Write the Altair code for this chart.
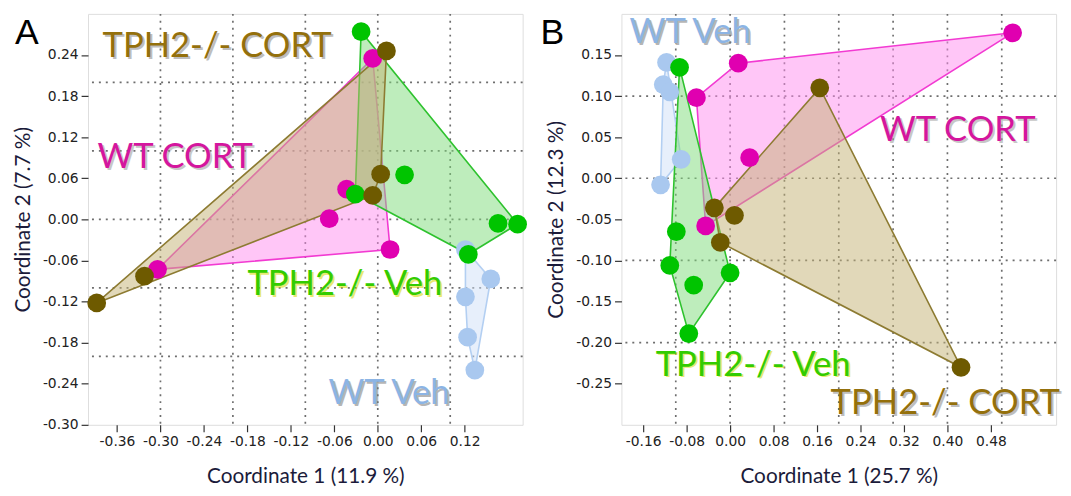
import altair as alt
import pandas as pd

groups = ["WT Veh", "WT CORT", "TPH2-/- Veh", "TPH2-/- CORT"]

# ---------------- Panel A values ----------------
a_wtveh_x = [0.121, 0.156, 0.121, 0.124, 0.134]
a_wtveh_y = [-0.044, -0.087, -0.113, -0.172, -0.220]
a_wtcort_x = [-0.007, -0.043, -0.067, 0.017, -0.304]
a_wtcort_y = [0.235, 0.044, 0.001, -0.044, -0.073]
a_tphveh_x = [-0.023, 0.037, -0.031, 0.166, 0.193, 0.125]
a_tphveh_y = [0.274, 0.065, 0.037, -0.006, -0.007, -0.051]
a_tphcort_x = [0.012, 0.004, -0.007, -0.322, -0.388]
a_tphcort_y = [0.246, 0.066, 0.035, -0.083, -0.122]

# ---------------- Panel B values ----------------
b_wtveh_x = [-0.117, -0.123, -0.111, -0.090, -0.128]
b_wtveh_y = [0.141, 0.114, 0.105, 0.023, -0.008]
b_wtcort_x = [0.520, 0.015, -0.062, 0.036, -0.045]
b_wtcort_y = [0.177, 0.140, 0.098, 0.025, -0.058]
b_tphveh_x = [-0.093, -0.099, -0.111, -0.067, 0.000, -0.076]
b_tphveh_y = [0.135, -0.065, -0.106, -0.130, -0.115, -0.189]
b_tphcort_x = [0.165, -0.029, 0.008, -0.018, 0.425]
b_tphcort_y = [0.110, -0.036, -0.045, -0.078, -0.230]

# axis ticks and grid values
a_xticks = [-0.36, -0.30, -0.24, -0.18, -0.12, -0.06, 0.00, 0.06, 0.12]
a_yticks = [-0.30, -0.24, -0.18, -0.12, -0.06, 0.00, 0.06, 0.12, 0.18, 0.24]
a_xgrid = [-0.3, -0.2, -0.1, 0.0, 0.1]
a_ygrid = [-0.2, -0.1, 0.0, 0.1, 0.2]
b_xticks = [-0.16, -0.08, 0.00, 0.08, 0.16, 0.24, 0.32, 0.40, 0.48]
b_yticks = [-0.25, -0.20, -0.15, -0.10, -0.05, 0.00, 0.05, 0.10, 0.15]
b_xgrid = [-0.1, 0.0, 0.1, 0.2, 0.3, 0.4, 0.5]
b_ygrid = [-0.2, -0.1, 0.0, 0.1]

# group-name annotations (data-space anchor of the left/baseline)
a_label_text = ["TPH2-/- CORT", "WT CORT", "TPH2-/- Veh", "WT Veh"]
a_label_x = [-0.380, -0.387, -0.180, -0.068]
a_label_y = [0.237, 0.075, -0.110, -0.269]
b_label_text = ["WT Veh", "WT CORT", "TPH2-/- Veh", "TPH2-/- CORT"]
b_label_x = [-0.185, 0.276, -0.137, 0.185]
b_label_y = [0.165, 0.045, -0.240, -0.287]

point_colors = ["#a9c8ef", "#e000b0", "#00c400", "#6e5a00"]
line_colors = ["#b3cff2", "#f23ad2", "#2ec22e", "#8d7b32"]
fill_colors = ["#cfe0f8", "#ff8ef0", "#7ddc7a", "#c4b273"]
text_colors = ["#8cb4e4", "#d4169e", "#33cc00", "#94700c"]
shadow_colors = ["#7a7a7a", "#9a9a9a", "#d8d800", "#8a8a8a"]


def hull(xs, ys):
    pts = sorted(set(zip(xs, ys)))

    def cross(o, a, b):
        return (a[0] - o[0]) * (b[1] - o[1]) - (a[1] - o[1]) * (b[0] - o[0])

    lower = []
    for p in pts:
        while len(lower) >= 2 and cross(lower[-2], lower[-1], p) <= 0:
            lower.pop()
        lower.append(p)
    upper = []
    for p in reversed(pts):
        while len(upper) >= 2 and cross(upper[-2], upper[-1], p) <= 0:
            upper.pop()
        upper.append(p)
    return lower[:-1] + upper[:-1]


MINUS_FIX = "replace(format(datum.value, '.2f'), '\u2212', '-')"


def panel(series, xdom, ydom, xticks, yticks, xgrid, ygrid, xtitle, ytitle,
          labels_text, labels_x, labels_y, letter, letter_dx):
    xscale = alt.Scale(domain=xdom, nice=False, zero=False)
    yscale = alt.Scale(domain=ydom, nice=False, zero=False)
    common = dict(labelExpr=MINUS_FIX, grid=False, domain=False, tickSize=7,
                  tickColor="#333", tickWidth=1.2, labelPadding=3,
                  labelFont="DejaVu Sans", labelFontSize=14, labelColor="#222",
                  titleFont="Lato", titleFontSize=21, titleFontWeight="normal",
                  titleColor="#1b1b3a")
    xaxis = alt.Axis(values=xticks, title=xtitle, titlePadding=17, **common)
    yaxis = alt.Axis(values=yticks, title=ytitle, titlePadding=9, **common)

    def X():
        return alt.X("x:Q", scale=xscale, axis=xaxis)

    def Y():
        return alt.Y("y:Q", scale=yscale, axis=yaxis)

    layers = []
    grid_style = dict(color="#6e6e6e", strokeDash=[2, 5], strokeWidth=1.7)
    layers.append(alt.Chart(pd.DataFrame({"x": xgrid})).mark_rule(**grid_style).encode(x=X()))
    layers.append(alt.Chart(pd.DataFrame({"y": ygrid})).mark_rule(**grid_style).encode(y=Y()))

    # hull polygons
    for gi, (xs, ys) in enumerate(series):
        h = hull(xs, ys)
        h = h + [h[0]]
        dfh = pd.DataFrame({"x": [p[0] for p in h], "y": [p[1] for p in h],
                            "o": list(range(len(h)))})
        layers.append(
            alt.Chart(dfh).mark_line(fill=fill_colors[gi], fillOpacity=0.5,
                                     stroke=line_colors[gi], strokeWidth=1.6,
                                     interpolate="linear")
            .encode(x=X(), y=Y(), order="o:Q")
        )

    # points
    rows = []
    for gi, (xs, ys) in enumerate(series):
        for xv, yv in zip(xs, ys):
            rows.append({"x": xv, "y": yv, "g": groups[gi]})
    dfp = pd.DataFrame(rows)
    layers.append(
        alt.Chart(dfp).mark_circle(size=360, opacity=1).encode(
            x=X(), y=Y(),
            color=alt.Color("g:N", scale=alt.Scale(domain=groups, range=point_colors), legend=None),
        )
    )

    # group labels with shadow
    dfl = pd.DataFrame({"x": labels_x, "y": labels_y, "t": labels_text})
    tcol = alt.Scale(domain=groups, range=text_colors)
    scol = alt.Scale(domain=groups, range=shadow_colors)
    base_txt = dict(align="left", baseline="alphabetic", font="Lato", fontSize=35)
    layers.append(
        alt.Chart(dfl).mark_text(dx=2, dy=2, opacity=0.55, **base_txt).encode(
            x=X(), y=Y(), text="t:N",
            color=alt.Color("t:N", scale=scol, legend=None))
    )
    layers.append(
        alt.Chart(dfl).mark_text(**base_txt).encode(
            x=X(), y=Y(), text="t:N",
            color=alt.Color("t:N", scale=tcol, legend=None))
    )
    # panel letter
    layers.append(
        alt.Chart(pd.DataFrame({"t": [letter]})).mark_text(
            font="Liberation Sans", fontSize=36, align="center", baseline="alphabetic",
            color="#000").encode(x=alt.value(letter_dx), y=alt.value(30), text="t:N")
    )
    return alt.layer(*layers).resolve_scale(color="independent").properties(width=440, height=416)


panel_a = panel(
    [(a_wtveh_x, a_wtveh_y), (a_wtcort_x, a_wtcort_y), (a_tphveh_x, a_tphveh_y), (a_tphcort_x, a_tphcort_y)],
    [-0.40, 0.20], [-0.30, 0.30], a_xticks, a_yticks, a_xgrid, a_ygrid,
    "Coordinate 1 (11.9 %)", "Coordinate 2 (7.7 %)",
    a_label_text, a_label_x, a_label_y, "A", -62,
)
panel_b = panel(
    [(b_wtveh_x, b_wtveh_y), (b_wtcort_x, b_wtcort_y), (b_tphveh_x, b_tphveh_y), (b_tphcort_x, b_tphcort_y)],
    [-0.20, 0.60], [-0.30, 0.20], b_xticks, b_yticks, b_xgrid, b_ygrid,
    "Coordinate 1 (25.7 %)", "Coordinate 2 (12.3 %)",
    b_label_text, b_label_x, b_label_y, "B", -70,
)

chart = alt.hconcat(panel_a, panel_b, spacing=12).properties(
    padding={"left": 4, "top": 1, "right": 0, "bottom": 0}
).configure_view(stroke="#444", strokeWidth=2).configure(background="white")

chart.save("out.html", embed_options={"renderer": "svg", "actions": False})
